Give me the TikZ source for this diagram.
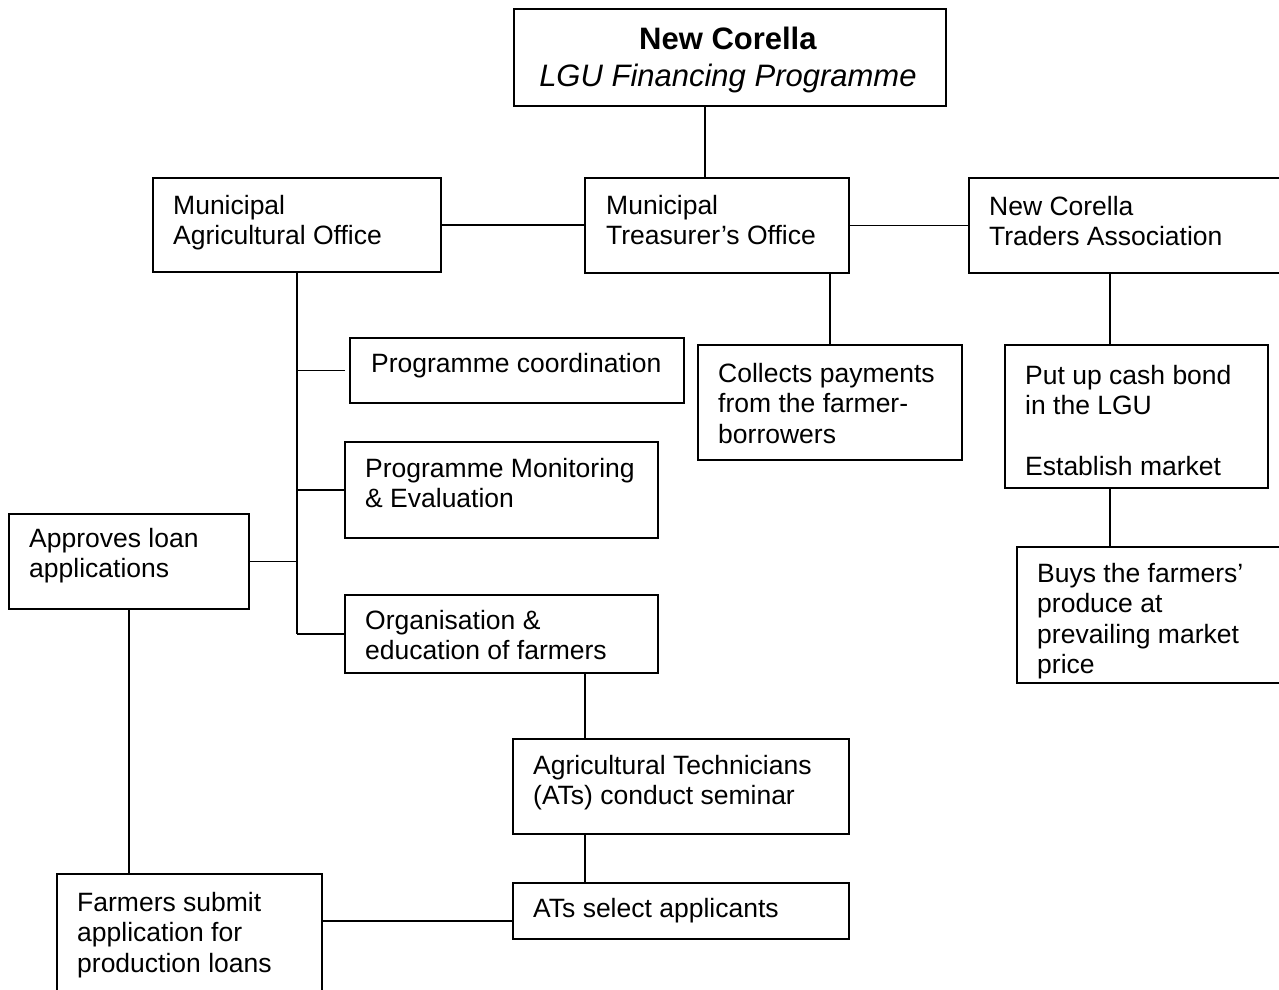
\documentclass[tikz,border=0pt]{standalone}
\usepackage{fontspec}
\setmainfont{Liberation Sans}
\newcommand{\bodyfont}{\fontsize{26.5}{30.5}\selectfont}
\newcommand{\headfont}{\fontsize{31}{37}\selectfont}
\tikzset{
    box/.style={draw=black, line width=1.8pt, anchor=north west, inner sep=0pt},
    txt/.style={anchor=north west, align=left, inner sep=0pt, font=\bodyfont},
    link/.style={draw=black, line width=1.8pt},
}

\begin{document}
\begin{tikzpicture}[x=1pt, y=-1pt]
            \useasboundingbox (0,0) rectangle (1279,990);
            \clip (0,0) rectangle (1279,990);
            % boxes
            \node[box, minimum width=432pt, minimum height=97pt]  (top)      at (513,8)    {};
            \node[box, minimum width=288pt, minimum height=94pt]  (mao)      at (152,177)  {};
            \node[box, minimum width=264pt, minimum height=95pt]  (mto)      at (584,177)  {};
            \node[box, minimum width=340pt, minimum height=95pt]  (ncta)     at (968,177)  {};
            \node[box, minimum width=334pt, minimum height=65pt]  (coord)    at (349,337)  {};
            \node[box, minimum width=264pt, minimum height=115pt] (collects) at (697,344)  {};
            \node[box, minimum width=263pt, minimum height=143pt] (cash)     at (1004,344) {};
            \node[box, minimum width=313pt, minimum height=96pt]  (monit)    at (344,441)  {};
            \node[box, minimum width=240pt, minimum height=95pt]  (approves) at (8,513)    {};
            \node[box, minimum width=300pt, minimum height=136pt] (buys)     at (1016,546) {};
            \node[box, minimum width=313pt, minimum height=78pt]  (org)      at (344,594)  {};
            \node[box, minimum width=336pt, minimum height=95pt]  (seminar)  at (512,738)  {};
            \node[box, minimum width=336pt, minimum height=56pt]  (select)   at (512,882)  {};
            \node[box, minimum width=265pt, minimum height=140pt] (farmers)  at (56,873)   {};
            % texts
            \node[txt, anchor=north, align=center, font=\headfont] (toptxt) at ([shift={(-2,19)}]top.north)
                 {{\bfseries New Corella}\\{\itshape LGU Financing Programme}};
            \node[txt] (maotxt)      at ([shift={(21,18)}]mao.north west)      {Municipal\\Agricultural Office};
            \node[txt] (mtotxt)      at ([shift={(22,18)}]mto.north west)      {Municipal\\Treasurer’s Office};
            \node[txt] (nctatxt)     at ([shift={(21,19)}]ncta.north west)     {New Corella\\Traders Association};
            \node[txt] (coordtxt)    at ([shift={(22,16)}]coord.north west)    {Programme coordination};
            \node[txt] (collectstxt) at ([shift={(21,19)}]collects.north west) {Collects payments\\from the farmer-\\borrowers};
            \node[txt] (cashtxt)     at ([shift={(21,21)}]cash.north west)     {Put up cash bond\\in the LGU\\[30.5pt]Establish market};
            \node[txt] (monittxt)    at ([shift={(21,17)}]monit.north west)    {Programme Monitoring\\\& Evaluation};
            \node[txt] (approvestxt) at ([shift={(21,15)}]approves.north west) {Approves loan\\applications};
            \node[txt] (buystxt)     at ([shift={(21,17)}]buys.north west)     {Buys the farmers’\\produce at\\prevailing market\\price};
            \node[txt] (orgtxt)      at ([shift={(21,16)}]org.north west)      {Organisation \&\\education of farmers};
            \node[txt] (seminartxt)  at ([shift={(21,17)}]seminar.north west)  {Agricultural Technicians\\(ATs) conduct seminar};
            \node[txt] (selecttxt)   at ([shift={(21,16)}]select.north west)   {ATs select applicants};
            \node[txt] (farmerstxt)  at ([shift={(21,19)}]farmers.north west)  {Farmers submit\\application for\\production loans};
            % connectors
            \coordinate (stem)        at (705,0);
            \coordinate (traderline)  at (1110,0);
            \coordinate (seminarline) at (585,0);
            \coordinate (selectline)  at (0,921);
            \draw[link] (top.south -| stem) -- (mto.north -| stem);
            \draw[link] (mao.east) -- (mao.east -| mto.west);
            \draw[link] (mto.east) -- (mto.east -| ncta.west);
            \draw[link] (collects.north) -- (collects.north |- mto.south);
            \draw[link] (ncta.south -| traderline) -- (cash.north -| traderline);
            \draw[link] (cash.south -| traderline) -- (buys.north -| traderline);
            \draw[link] (mao.south) -- (mao.south |- org.west);
            \draw[link] (mao.south |- coord.west) -- ([xshift=-4pt]coord.west);
            \draw[link] (mao.south |- monit.west) -- (monit.west);
            \draw[link] (mao.south |- org.west) -- (org.west);
            \draw[link] (approves.east) -- (approves.east -| mao.south);
            \draw[link] (approves.south) -- (approves.south |- farmers.north);
            \draw[link] (org.south -| seminarline) -- (seminar.north -| seminarline);
            \draw[link] (seminar.south -| seminarline) -- (select.north -| seminarline);
            \draw[link] (farmers.east |- selectline) -- (select.west |- selectline);
        \end{tikzpicture}
\end{document}
